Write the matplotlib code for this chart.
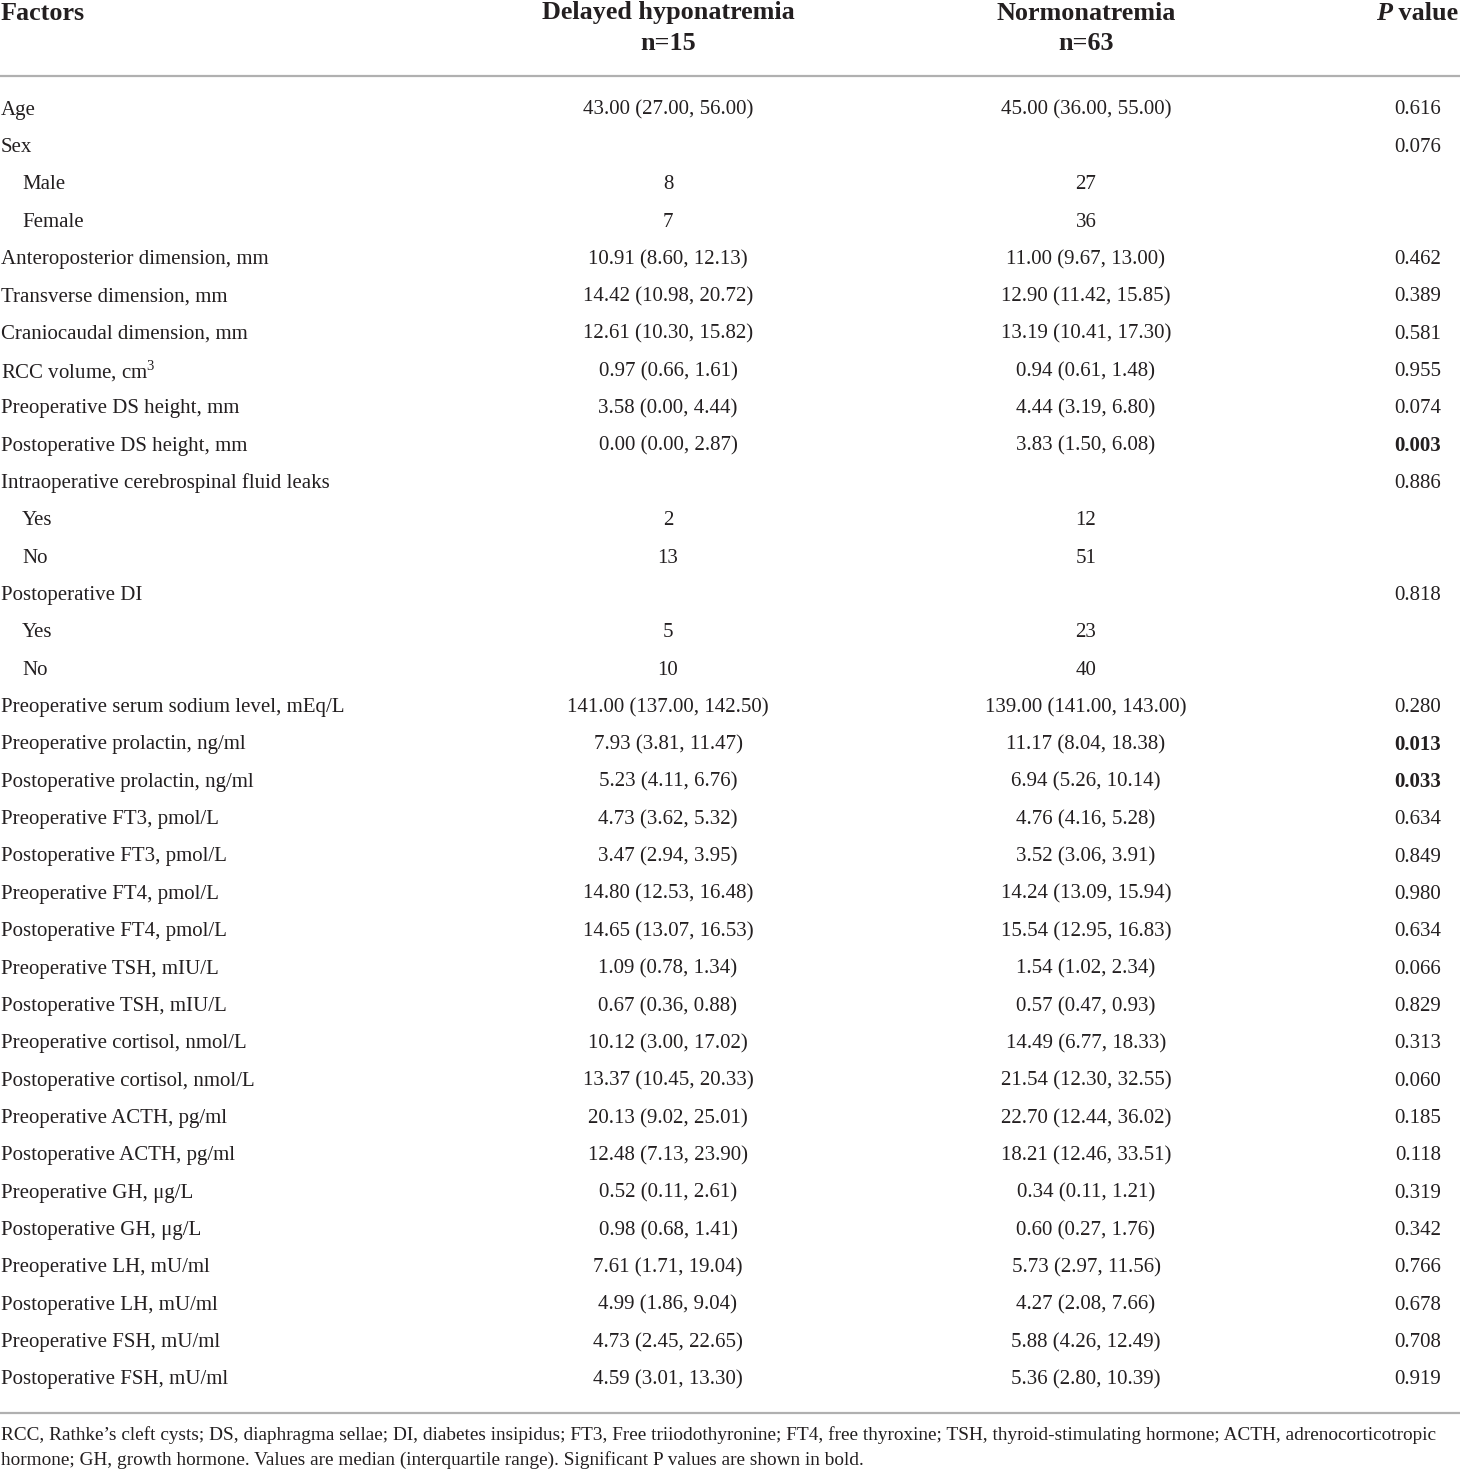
import matplotlib
matplotlib.use("Agg")
import matplotlib.pyplot as plt

plt.rcParams['font.family'] = ['Liberation Serif', 'DejaVu Serif']
plt.rcParams['mathtext.fontset'] = 'custom'
plt.rcParams['mathtext.rm'] = 'Liberation Serif'

col_headers = ["Factors", "Delayed hyponatremia\nn=15", "Normonatremia\nn=63", "P value"]

factors = [
    "Age", "Sex", "Male", "Female",
    "Anteroposterior dimension, mm", "Transverse dimension, mm",
    "Craniocaudal dimension, mm", "RCC volume, cm$^3$",
    "Preoperative DS height, mm", "Postoperative DS height, mm",
    "Intraoperative cerebrospinal fluid leaks", "Yes", "No",
    "Postoperative DI", "Yes", "No",
    "Preoperative serum sodium level, mEq/L",
    "Preoperative prolactin, ng/ml", "Postoperative prolactin, ng/ml",
    "Preoperative FT3, pmol/L", "Postoperative FT3, pmol/L",
    "Preoperative FT4, pmol/L", "Postoperative FT4, pmol/L",
    "Preoperative TSH, mIU/L", "Postoperative TSH, mIU/L",
    "Preoperative cortisol, nmol/L", "Postoperative cortisol, nmol/L",
    "Preoperative ACTH, pg/ml", "Postoperative ACTH, pg/ml",
    "Preoperative GH, μg/L", "Postoperative GH, μg/L",
    "Preoperative LH, mU/ml", "Postoperative LH, mU/ml",
    "Preoperative FSH, mU/ml", "Postoperative FSH, mU/ml",
]
indented = [False, False, True, True, False, False, False, False, False, False,
            False, True, True, False, True, True] + [False] * 19

delayed = [
    "43.00 (27.00, 56.00)", "", "8", "7",
    "10.91 (8.60, 12.13)", "14.42 (10.98, 20.72)", "12.61 (10.30, 15.82)",
    "0.97 (0.66, 1.61)", "3.58 (0.00, 4.44)", "0.00 (0.00, 2.87)",
    "", "2", "13", "", "5", "10",
    "141.00 (137.00, 142.50)", "7.93 (3.81, 11.47)", "5.23 (4.11, 6.76)",
    "4.73 (3.62, 5.32)", "3.47 (2.94, 3.95)", "14.80 (12.53, 16.48)",
    "14.65 (13.07, 16.53)", "1.09 (0.78, 1.34)", "0.67 (0.36, 0.88)",
    "10.12 (3.00, 17.02)", "13.37 (10.45, 20.33)", "20.13 (9.02, 25.01)",
    "12.48 (7.13, 23.90)", "0.52 (0.11, 2.61)", "0.98 (0.68, 1.41)",
    "7.61 (1.71, 19.04)", "4.99 (1.86, 9.04)", "4.73 (2.45, 22.65)",
    "4.59 (3.01, 13.30)",
]

normo = [
    "45.00 (36.00, 55.00)", "", "27", "36",
    "11.00 (9.67, 13.00)", "12.90 (11.42, 15.85)", "13.19 (10.41, 17.30)",
    "0.94 (0.61, 1.48)", "4.44 (3.19, 6.80)", "3.83 (1.50, 6.08)",
    "", "12", "51", "", "23", "40",
    "139.00 (141.00, 143.00)", "11.17 (8.04, 18.38)", "6.94 (5.26, 10.14)",
    "4.76 (4.16, 5.28)", "3.52 (3.06, 3.91)", "14.24 (13.09, 15.94)",
    "15.54 (12.95, 16.83)", "1.54 (1.02, 2.34)", "0.57 (0.47, 0.93)",
    "14.49 (6.77, 18.33)", "21.54 (12.30, 32.55)", "22.70 (12.44, 36.02)",
    "18.21 (12.46, 33.51)", "0.34 (0.11, 1.21)", "0.60 (0.27, 1.76)",
    "5.73 (2.97, 11.56)", "4.27 (2.08, 7.66)", "5.88 (4.26, 12.49)",
    "5.36 (2.80, 10.39)",
]

p_values = [
    "0.616", "0.076", "", "", "0.462", "0.389", "0.581", "0.955", "0.074",
    "0.003", "0.886", "", "", "0.818", "", "", "0.280", "0.013", "0.033",
    "0.634", "0.849", "0.980", "0.634", "0.066", "0.829", "0.313", "0.060",
    "0.185", "0.118", "0.319", "0.342", "0.766", "0.678", "0.708", "0.919",
]
significant = ["0.003", "0.013", "0.033"]

footnote = ("RCC, Rathke\u2019s cleft cysts; DS, diaphragma sellae; DI, diabetes insipidus; FT3, Free triiodothyronine; "
            "FT4, free thyroxine; TSH, thyroid-stimulating hormone; ACTH, adrenocorticotropic\n"
            "hormone; GH, growth hormone. Values are median (interquartile range). Significant P values are shown in bold.")

W, H = 1460, 1472
fig = plt.figure(figsize=(W / 100, H / 100), dpi=100)
ax = fig.add_axes([0, 0, 1, 1])
ax.set_xlim(0, W)
ax.set_ylim(H, 0)
ax.axis('off')

fs = 15.0
hfs = 18.8
text_color = '#231f20'
x_fac, x_c1, x_c2, x_p = 1, 668, 1086, 1418

# header
ax.text(x_fac, 13, col_headers[0], fontsize=hfs, fontweight='bold', ha='left', va='center', color=text_color)
for x, h in [(x_c1, col_headers[1]), (x_c2, col_headers[2])]:
    l1, l2 = h.split("\n")
    ax.text(x, 13, l1, fontsize=hfs, fontweight='bold', ha='center', va='center', color=text_color)
    ax.text(x, 43, l2, fontsize=hfs, fontweight='bold', ha='center', va='center', color=text_color)
pw, rest = col_headers[3].split(" ", 1)
t_rest = ax.text(1458, 13, " " + rest, fontsize=hfs, fontweight='bold', ha='right', va='center', color=text_color)
fig.canvas.draw()
bb = t_rest.get_window_extent(renderer=fig.canvas.get_renderer())
ax.text(bb.x0, 13, pw, fontsize=hfs, fontweight='bold', fontstyle='italic', ha='right', va='center',
        color=text_color, transform=matplotlib.transforms.blended_transform_factory(
            matplotlib.transforms.IdentityTransform(), ax.transData))

ax.plot([0, W], [76, 76], color='#b0b0b0', lw=1.6, solid_capstyle='butt')

y0, dy = 110, 37.35
for i, f in enumerate(factors):
    y = y0 + i * dy
    ax.text(x_fac + (21 if indented[i] else 0), y, f, fontsize=fs, ha='left', va='center', color=text_color)
    if delayed[i]:
        ax.text(x_c1, y, delayed[i], fontsize=fs, ha='center', va='center', color=text_color)
    if normo[i]:
        ax.text(x_c2, y, normo[i], fontsize=fs, ha='center', va='center', color=text_color)
    if p_values[i]:
        ax.text(x_p, y, p_values[i], fontsize=fs, ha='center', va='center', color=text_color,
                fontweight='bold' if p_values[i] in significant else 'normal')

ax.plot([0, W], [1413, 1413], color='#b0b0b0', lw=1.6, solid_capstyle='butt')

fl = footnote.split("\n")
ax.text(x_fac, 1435, fl[0], fontsize=13.9, ha='left', va='center', color=text_color)
ax.text(x_fac, 1460, fl[1], fontsize=13.9, ha='left', va='center', color=text_color)

fig.savefig("out.png", dpi=100)
